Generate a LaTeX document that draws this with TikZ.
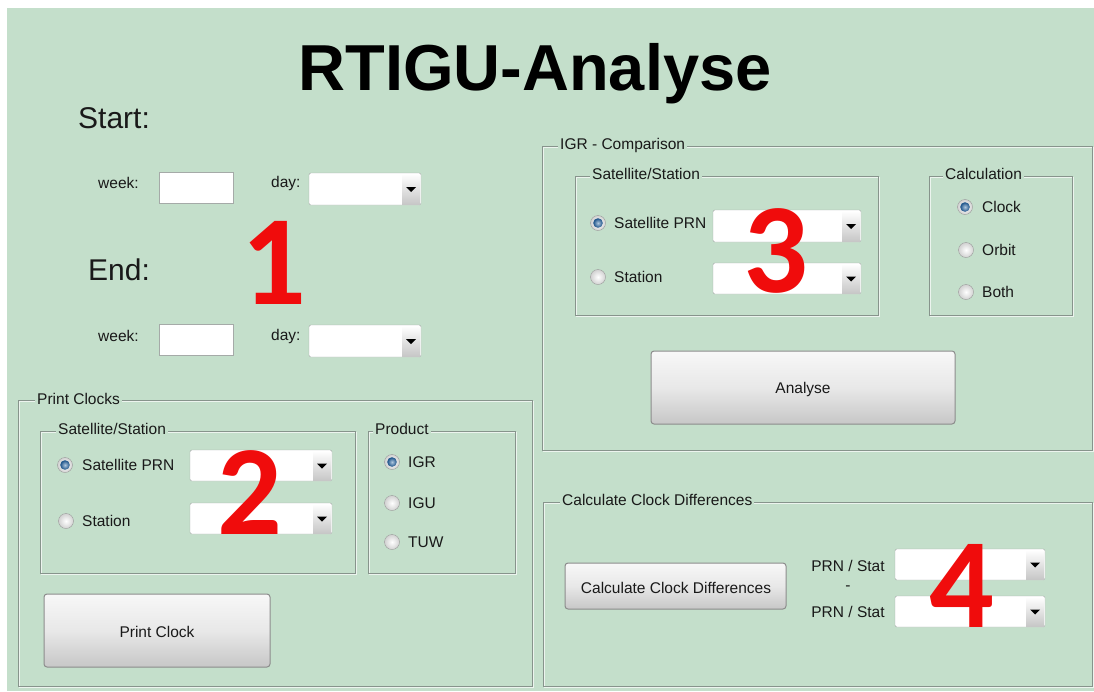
\documentclass[tikz,border=0pt]{standalone}
\usepackage{fontspec}
\setmainfont{Liberation Sans}
\newfontfamily\numfont{Carlito}
\definecolor{bg}{RGB}{196,223,203}
\definecolor{framedark}{RGB}{135,148,140}
\definecolor{framelight}{RGB}{236,244,238}
\definecolor{txt}{RGB}{25,25,25}
\definecolor{redno}{RGB}{240,12,12}
\definecolor{boxline}{RGB}{165,170,168}
\definecolor{radioblue}{RGB}{30,95,160}
\newcommand{\etchedframe}[4]{%
  \draw[framelight,line width=1pt] ({#1+1},{#2+1}) rectangle ({#3+1},{#4+1});
  \draw[framedark,line width=1pt] (#1,#2) rectangle (#3,#4);}
\newcommand{\dropbox}[4]{%
  \draw[boxline,fill=white,rounded corners=1.5pt] (#1,#2) rectangle (#3,#4);
  \shade[top color=white,bottom color=black!22] ({#3-19},{#2+1}) rectangle ({#3-1},{#4-1});
  \fill[black] ({#3-15},{(#2+#4)/2-2}) -- ++(10,0) -- ++(-5,5) -- cycle;}
\newcommand{\textbox}[4]{%
  \draw[boxline,fill=white] (#1,#2) rectangle (#3,#4);}
\newcommand{\radiobtn}[2]{%
  \shadedraw[draw=black!40,inner color=white,outer color=black!18] (#1,#2) circle (7.5pt);}
\newcommand{\radiosel}[2]{%
  \shadedraw[draw=black!40,inner color=white,outer color=black!18] (#1,#2) circle (7.5pt);
  \shade[inner color=radioblue!35,outer color=radioblue!85!black] (#1,#2) circle (4.8pt);}
\newcommand{\guibutton}[4]{%
  \shade[rounded corners=3pt,top color=black!3,bottom color=black!22,middle color=black!9] (#1,#2) rectangle (#3,#4);
  \draw[rounded corners=3pt,black!45,line width=1pt] (#1,#2) rectangle (#3,#4);}
\begin{document}
\begin{tikzpicture}[x=1pt,y=-1pt,
  every node/.style={inner sep=0pt,text=txt},
  lbl/.style={font=\fontsize{15.5}{16}\selectfont,anchor=west},
  framelbl/.style={font=\fontsize{15.5}{16}\selectfont,anchor=west,fill=bg,inner xsep=2pt,inner ysep=1pt},
  btnlbl/.style={font=\fontsize{15.5}{16}\selectfont},
  bignum/.style={font=\numfont\bfseries\fontsize{128}{128}\selectfont,text=redno,anchor=base}]
\useasboundingbox (0,0) rectangle (1094,691);
\fill[white] (0,0) rectangle (1094,691);
\fill[bg] (7,8) rectangle (1094,691);

% title
\node[font=\bfseries\fontsize{65}{65}\selectfont,anchor=base,text=black] (title) at (535,90) {RTIGU-Analyse};

% section 1
\node[font=\fontsize{30}{30}\selectfont,anchor=base west] (start) at (78,128) {Start:};
\node[font=\fontsize{30}{30}\selectfont,anchor=base west] (end) at (88,280) {End:};
\node[lbl] (wk1) at (98,183) {week:};
\textbox{159}{172}{233}{203}
\node[lbl] (dy1) at (271,183) {day:};
\dropbox{309}{173}{421}{205}
\node[lbl] (wk2) at (98,336) {week:};
\textbox{159}{324}{233}{355}
\node[lbl] (dy2) at (271,336) {day:};
\dropbox{309}{325}{421}{357}

% section 2: Print Clocks
\etchedframe{18}{400}{532}{686}
\node[framelbl] (pc) at (35,399) {Print Clocks};
\etchedframe{40}{431}{355}{573}
\node[framelbl] (ss2) at (56,429) {Satellite/Station};
\radiosel{65}{465}
\node[lbl] (sp2) at (82,465) {Satellite PRN};
\dropbox{190}{450}{332}{481}
\radiobtn{66}{521}
\node[lbl] (st2) at (82,521) {Station};
\dropbox{190}{503}{332}{534}
\etchedframe{368}{431}{515}{573}
\node[framelbl] (prod) at (373,429) {Product};
\radiosel{392}{462}
\node[lbl] (igr) at (408,462) {IGR};
\radiobtn{392}{503}
\node[lbl] (igu) at (408,503) {IGU};
\radiobtn{392}{542}
\node[lbl] (tuw) at (408,542) {TUW};
\guibutton{44}{594}{270}{667}
\node[btnlbl] (pcb) at (157,632) {Print Clock};

% section 3: IGR - Comparison
\etchedframe{542}{146}{1092}{450}
\node[framelbl] (igrc) at (558,145) {IGR - Comparison};
\etchedframe{575}{176}{878}{315}
\node[framelbl] (ss3) at (590,174) {Satellite/Station};
\radiosel{598}{223}
\node[lbl] (sp3) at (614,223) {Satellite PRN};
\dropbox{713}{210}{861}{242}
\radiobtn{598}{277}
\node[lbl] (st3) at (614,277) {Station};
\dropbox{713}{263}{861}{294}
\etchedframe{929}{176}{1072}{315}
\node[framelbl] (calc) at (943,174) {Calculation};
\radiosel{965}{207}
\node[lbl] (clk) at (982,207) {Clock};
\radiobtn{966}{250}
\node[lbl] (orb) at (982,250) {Orbit};
\radiobtn{966}{292}
\node[lbl] (both) at (982,292) {Both};
\guibutton{651}{351}{955}{424}
\node[btnlbl] (anb) at (803,389) {Analyse};

% section 4: Calculate Clock Differences
\etchedframe{543}{502}{1092}{686}
\node[framelbl] (ccd) at (560,500) {Calculate Clock Differences};
\guibutton{565}{563}{786}{609}
\node[btnlbl] (ccdb) at (676,588) {Calculate Clock Differences};
\node[btnlbl] (ps1) at (848,566) {PRN / Stat};
\node[btnlbl] (dash) at (848,588) {-};
\node[btnlbl] (ps2) at (848,612) {PRN / Stat};
\dropbox{895}{549}{1045}{580}
\dropbox{895}{596}{1045}{627}

% red numbers
\node[bignum] (n1) at (274,304) {1};
\node[bignum] (n2) at (250,534) {2};
\node[bignum] (n3) at (776,292) {3};
\node[bignum] (n4) at (962,627) {4};
\end{tikzpicture}
\end{document}
